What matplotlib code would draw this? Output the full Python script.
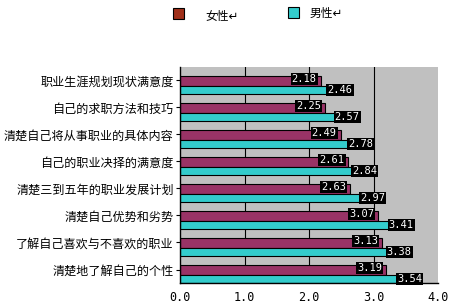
import matplotlib.pyplot as plt
from matplotlib.patches import Rectangle
import numpy as np

plt.rcParams['font.family'] = ['Noto Sans CJK SC', 'DejaVu Sans']

categories = ['职业生涯规划现状满意度', '自己的求职方法和技巧', '清楚自己将从事职业的具体内容',
              '自己的职业决择的满意度', '清楚三到五年的职业发展计划', '清楚自己优势和劣势',
              '了解自己喜欢与不喜欢的职业', '清楚地了解自己的个性']
female = [2.18, 2.25, 2.49, 2.61, 2.63, 3.07, 3.13, 3.19]
male = [2.46, 2.57, 2.78, 2.84, 2.97, 3.41, 3.38, 3.54]
xticks = [0, 1, 2, 3, 4]
xticklabels = ['0.0', '1.0', '2.0', '3.0', '4.0']

fcol = '#993366'
mcol = '#33CCCC'

fig = plt.figure(figsize=(4.5, 3.08), dpi=100)
ax = fig.add_axes([180/450, 1-283/308, 258/450, 216/308])
ax.set_facecolor('#c0c0c0')

y = np.arange(len(categories))
ax.barh(y + 0.51, female, height=0.36, color=fcol, edgecolor='black', linewidth=0.8)
ax.barh(y + 0.84, male, height=0.30, color=mcol, edgecolor='black', linewidth=0.8)

box = dict(boxstyle='square,pad=0.1', facecolor='black', edgecolor='none')
for i in range(len(categories)):
    ax.text(female[i] - 0.06, y[i] + 0.45, '%.2f' % female[i], ha='right', va='center',
            color='white', fontsize=7.5, family='DejaVu Sans Mono', bbox=box)
    ax.text(male[i] + 0.02, y[i] + 0.84, '%.2f' % male[i], ha='center', va='center',
            color='white', fontsize=7.5, family='DejaVu Sans Mono', bbox=box)

ax.set_xlim(0, 4)
ax.set_ylim(len(categories), 0)
for v in [1, 2, 3]:
    ax.axvline(v, color='black', linewidth=0.8, zorder=0.5)
ax.set_xticks(xticks)
ax.set_xticklabels(xticklabels, family='DejaVu Sans Mono', fontsize=8.5)
ax.set_yticks(y + 0.5)
ax.set_yticklabels(categories, fontsize=8.7)
ax.tick_params(axis='x', length=0, pad=6)
ax.tick_params(axis='y', length=3, width=0.8, pad=1.5)
for s in ['top', 'right']:
    ax.spines[s].set_visible(False)
ax.spines['left'].set_linewidth(1)
ax.spines['bottom'].set_linewidth(1)

# legend
fig.patches.append(Rectangle((173/450, 1-19/308), 11/450, 11/308, transform=fig.transFigure,
                             facecolor='#a0301a', edgecolor='black', linewidth=0.8))
fig.text(205/450, 1-16/308, '女性↵', fontsize=8.5, va='center')
fig.patches.append(Rectangle((288/450, 1-18/308), 11/450, 11/308, transform=fig.transFigure,
                             facecolor=mcol, edgecolor='black', linewidth=0.8))
fig.text(310/450, 1-13/308, '男性↵', fontsize=8.5, va='center')

fig.savefig('out.png', dpi=100)
